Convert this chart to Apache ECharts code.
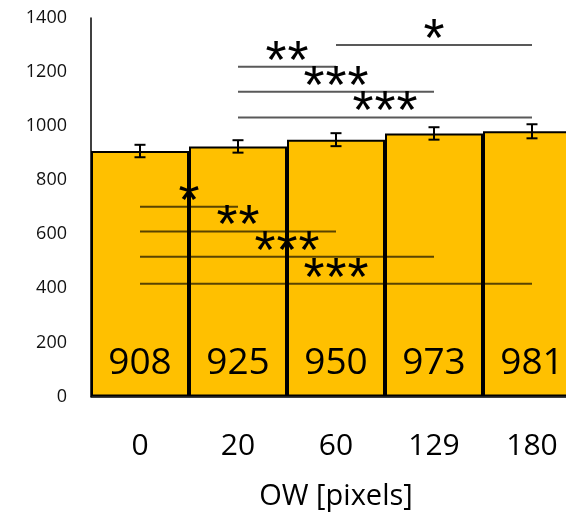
<!DOCTYPE html>
<html>
<head>
<meta charset="utf-8">
<script src="https://cdn.jsdelivr.net/npm/echarts@6/dist/echarts.min.js"></script>
<style>html,body{margin:0;padding:0;background:#fff;overflow:hidden;}#c{width:581px;height:515px;}</style>
</head>
<body>
<div id="c"></div>
<script>
const categories = ['0', '20', '60', '129', '180'];
const means = [908, 925, 950, 973, 981];
const errors = [23, 23, 24, 23, 26];
const sigFrom = [2, 1, 1, 1, 0, 0, 0, 0];
const sigTo = [4, 2, 3, 4, 1, 2, 3, 4];
const sigLevel = [1300, 1220, 1127, 1032, 702, 610, 517, 417];
const sigStars = ['*', '**', '***', '***', '*', '**', '***', '***'];
const yMin = 0, yMax = 1400, yStep = 200;
const xName = 'OW [pixels]';

const FONT = '"Open Sans", "DejaVu Sans", sans-serif';
const STAR_FONT = '"Liberation Sans", sans-serif';
const chart = echarts.init(document.getElementById('c'), null, {renderer: 'canvas', width: 581, height: 515});

const errData = means.map((m, i) => [i, m, errors[i]]);
const sigData = sigLevel.map((y, i) => [sigFrom[i], sigTo[i], y]);

chart.setOption({
  animation: false,
  grid: {left: 91, right: 0, top: 18, bottom: 118.5, containLabel: false, outerBoundsMode: 'none'},
  xAxis: {
    type: 'category',
    data: categories,
    axisLine: {show: true, lineStyle: {color: '#000', width: 1.5}},
    axisTick: {show: false},
    axisLabel: {fontSize: 30, fontFamily: FONT, color: '#000', margin: 35},
    name: xName,
    nameLocation: 'middle',
    nameGap: 86,
    nameTextStyle: {fontSize: 29, fontFamily: FONT, color: '#000'}
  },
  yAxis: {
    type: 'value',
    min: yMin, max: yMax, interval: yStep,
    axisLine: {show: true, lineStyle: {color: '#000', width: 1.5}},
    axisTick: {show: false},
    splitLine: {show: false},
    axisLabel: {fontSize: 18, fontFamily: FONT, color: '#111', margin: 24,
                formatter: function (v) { return String(v); }}
  },
  series: [
    {
      type: 'bar',
      data: means,
      barCategoryGap: 0,
      itemStyle: {color: '#FFC000', borderColor: '#000', borderWidth: 2},
      label: {
        show: true,
        position: ['50%', '100%'],
        align: 'center',
        verticalAlign: 'middle',
        offset: [0, -33],
        fontSize: 37,
        fontFamily: FONT,
        color: '#000'
      }
    },
    {
      type: 'custom',
      data: errData,
      encode: {x: 0, y: 1},
      z: 5,
      renderItem: function (params, api) {
        const x = api.value(0), m = api.value(1), e = api.value(2);
        const top = api.coord([x, m + e]);
        const bot = api.coord([x, m - e]);
        const hw = 5.5;
        const st = {stroke: '#000', lineWidth: 2};
        return {type: 'group', children: [
          {type: 'line', shape: {x1: top[0], y1: top[1], x2: bot[0], y2: bot[1]}, style: st},
          {type: 'line', shape: {x1: top[0] - hw, y1: top[1], x2: top[0] + hw, y2: top[1]}, style: st},
          {type: 'line', shape: {x1: bot[0] - hw, y1: bot[1], x2: bot[0] + hw, y2: bot[1]}, style: st}
        ]};
      }
    },
    {
      type: 'custom',
      data: sigData,
      encode: {x: [0, 1], y: 2},
      z: 6,
      clip: false,
      renderItem: function (params, api) {
        const i = params.dataIndex;
        const a = api.coord([api.value(0), api.value(2)]);
        const b = api.coord([api.value(1), api.value(2)]);
        const children = [
          {type: 'line', shape: {x1: a[0], y1: a[1], x2: b[0], y2: b[1]},
           style: {stroke: 'rgba(0,0,0,0.65)', lineWidth: 2}}
        ];
        const stars = sigStars[i];
        const n = stars.length;
        const step = 22;
        const mid = (a[0] + b[0]) / 2;
        for (let k = 0; k < n; k++) {
          children.push({type: 'text', x: mid + (k - (n - 1) / 2) * step, y: a[1] - 4,
            style: {text: stars[k], fontSize: 54, fontFamily: STAR_FONT, fill: '#000',
                    align: 'center', verticalAlign: 'middle'}});
        }
        return {type: 'group', children: children};
      }
    }
  ]
});
</script>
</body>
</html>
